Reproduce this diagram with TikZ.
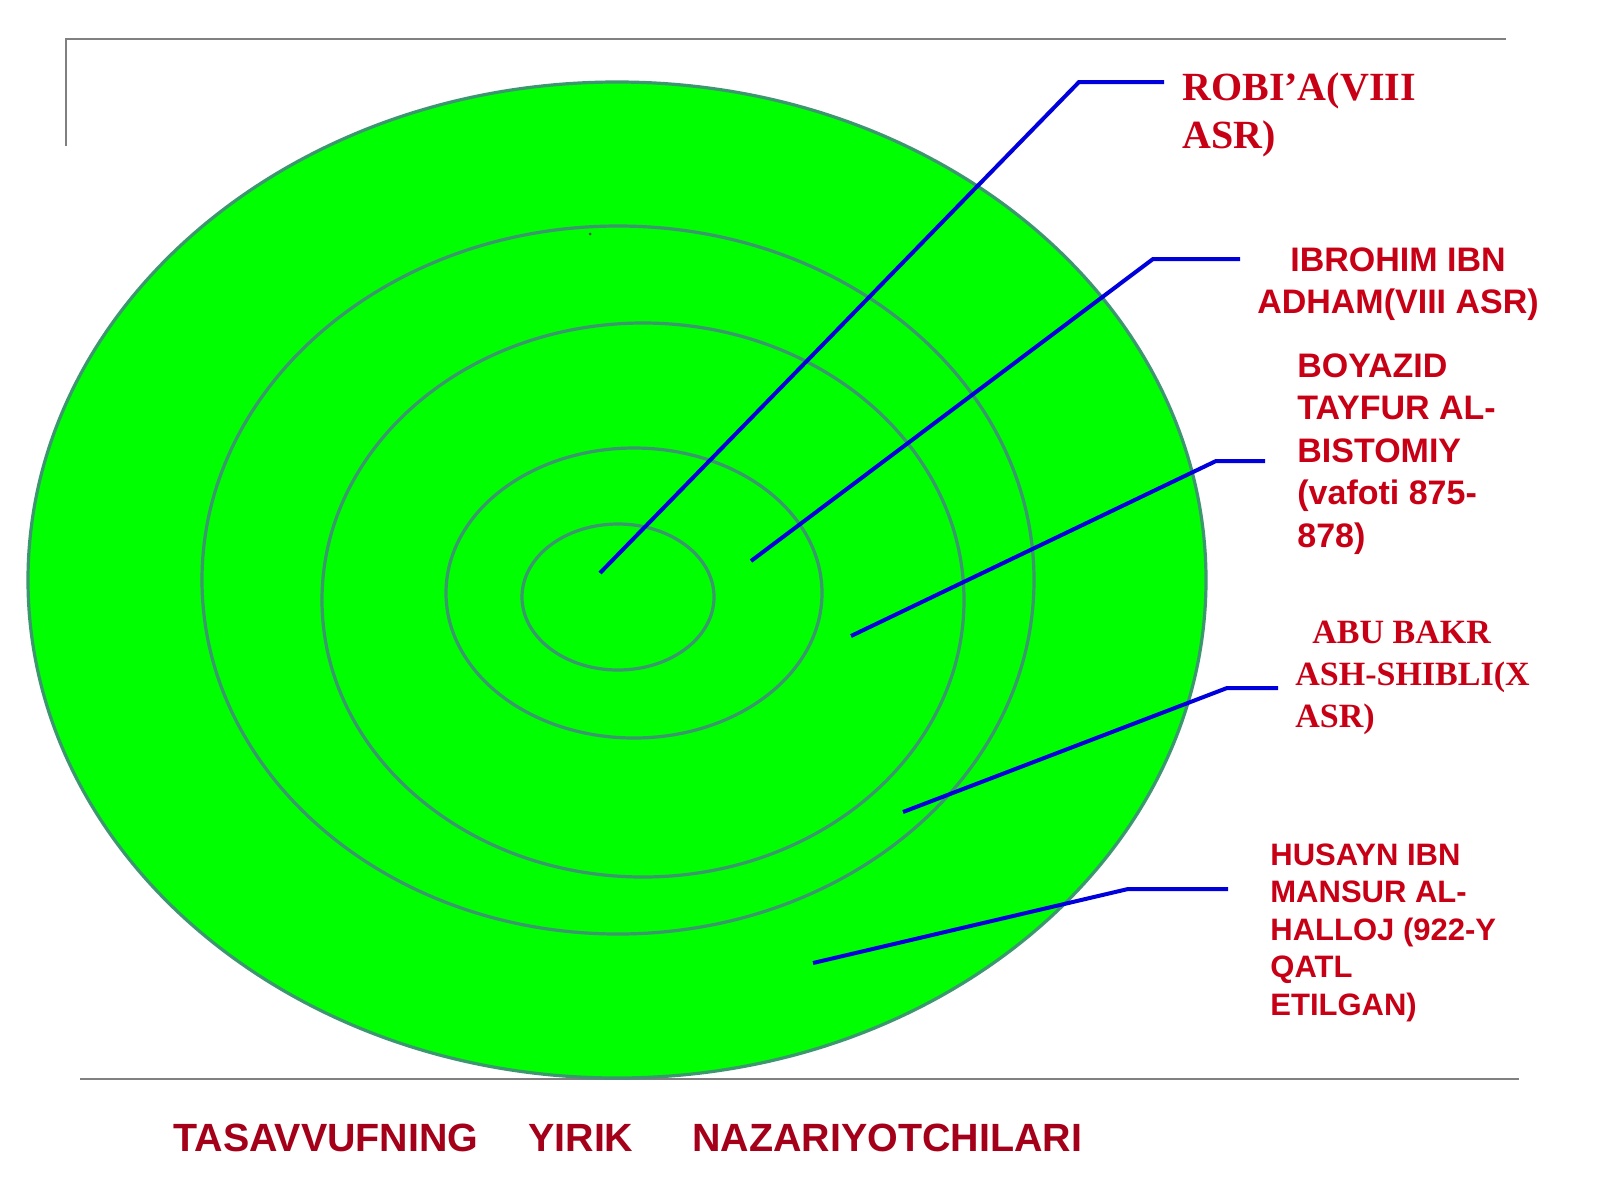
\documentclass[tikz,border=0pt]{standalone}
\usepackage{fontspec}
\setmainfont{Liberation Serif}
\newfontfamily\labsans{Liberation Sans}
\definecolor{ringgreen}{RGB}{0,255,0}
\definecolor{ringedge}{RGB}{60,150,110}
\definecolor{leadblue}{RGB}{0,0,220}
\definecolor{labred}{RGB}{200,0,22}
\definecolor{titlered}{RGB}{165,0,25}
\definecolor{framegray}{RGB}{128,128,128}
\begin{document}
\begin{tikzpicture}[x=0.5pt,y=-0.5pt,
  ring/.style={draw=ringedge,line width=1.6pt,fill=ringgreen},
  ringline/.style={draw=ringedge,line width=1.6pt},
  lead/.style={draw=leadblue,line width=2pt},
  frame/.style={draw=framegray,line width=1.2pt},
  seriflab/.style={inner sep=0pt,text=labred,font=\bfseries},
  sanslab/.style={inner sep=0pt,text=labred,font=\labsans\bfseries}]
\useasboundingbox (0,0) rectangle (1600,1200);
\fill[white] (0,0) rectangle (1600,1200);
% frame lines
\draw[frame] (66,146) -- (66,39) -- (1506,39);
\draw[frame] (80,1079) -- (1519,1079);
% rings
\path[ring] (617,580) ellipse [x radius=589, y radius=498];
\path[ringline] (618,580) ellipse [x radius=416, y radius=354];
\path[ringline] (643,600) ellipse [x radius=321, y radius=277];
\path[ringline] (634,593) ellipse [x radius=188, y radius=145];
\path[ringline] (618,597) ellipse [x radius=96, y radius=73];
\fill[black!70] (590,234) circle [radius=1.5];
% labels (anchored at the baseline of the last line)
\node[seriflab,anchor=base west,align=left,font=\bfseries\fontsize{20}{24}\selectfont] (robia) at (1182,148) {ROBI’A(VIII\\ASR)};
\node[sanslab,anchor=base,align=center,font=\labsans\bfseries\fontsize{17}{21}\selectfont] (ibrohim) at (1398,313) {IBROHIM IBN\\ADHAM(VIII ASR)};
\node[sanslab,anchor=base west,align=left,font=\labsans\bfseries\fontsize{17}{21.2}\selectfont] (boyazid) at (1297,547) {BOYAZID\\TAYFUR AL-\\BISTOMIY\\(vafoti 875-\\878)};
\node[seriflab,anchor=base west,align=left,font=\bfseries\fontsize{17}{21}\selectfont] (abubakr) at (1295,727) {\hspace*{8.5pt}ABU BAKR\\ASH-SHIBLI(X\\ASR)};
\node[sanslab,anchor=base west,align=left,font=\labsans\bfseries\fontsize{15.5}{18.75}\selectfont] (husayn) at (1270,1015) {HUSAYN IBN\\MANSUR AL-\\HALLOJ (922-Y\\QATL\\ETILGAN)};
\node[inner sep=0pt,anchor=base west,text=titlered,font=\labsans\bfseries\fontsize{19.7}{23}\selectfont] (title) at (173,1151) {TASAVVUFNING\hspace{25pt}YIRIK\hspace{29.5pt}NAZARIYOTCHILARI};
% leader lines
\coordinate (r1) at (600,573); \coordinate (e1) at (1079,82); \coordinate (t1) at (1164,82);
\coordinate (r2) at (751,561); \coordinate (e2) at (1153,259); \coordinate (t2) at (1240,259);
\coordinate (r3) at (851,636); \coordinate (e3) at (1216,461); \coordinate (t3) at (1265,461);
\coordinate (r4) at (903,812); \coordinate (e4) at (1227,688); \coordinate (t4) at (1278,688);
\coordinate (r5) at (813,963); \coordinate (e5) at (1128,889); \coordinate (t5) at (1228,889);
\draw[lead] (r1) -- (e1) -- (t1);
\draw[lead] (r2) -- (e2) -- (t2);
\draw[lead] (r3) -- (e3) -- (t3);
\draw[lead] (r4) -- (e4) -- (t4);
\draw[lead] (r5) -- (e5) -- (t5);
\end{tikzpicture}
\end{document}
